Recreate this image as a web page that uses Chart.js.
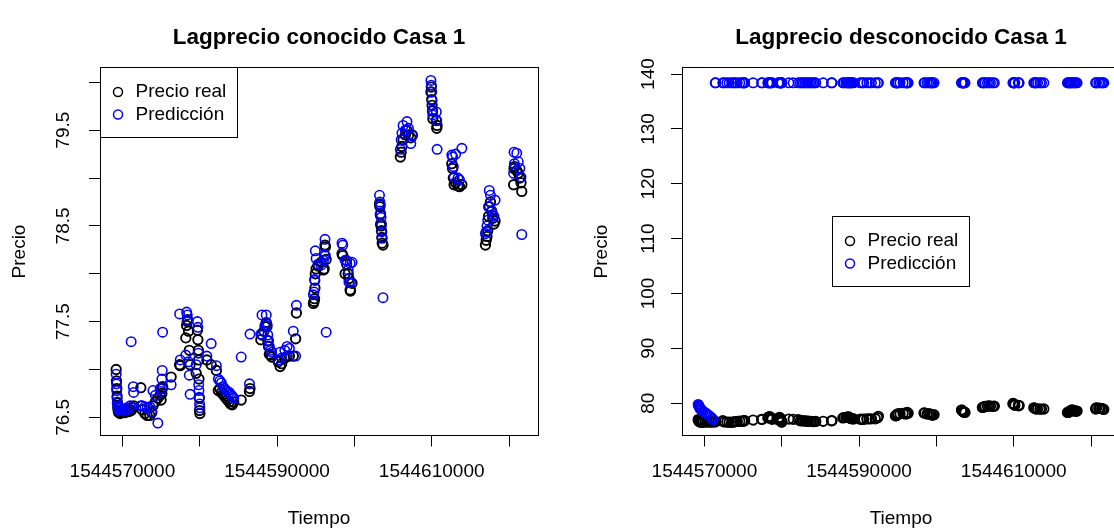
<!DOCTYPE html>
<html lang="es">
<head>
<meta charset="utf-8">
<title>Lagprecio Casa 1</title>
<script src="https://cdn.jsdelivr.net/npm/chart.js@4.4.1/dist/chart.umd.min.js"></script>
<style>
  html, body { margin: 0; padding: 0; background: #fff; overflow: hidden; }
  body { width: 1114px; height: 532px; position: relative; }
  .panel { position: absolute; top: 0; width: 582px; height: 532px; }
  #izq { left: 0; }
  #der { left: 582px; }
</style>
</head>
<body>
<div class="panel" id="izq"><canvas id="grafico-izq"></canvas></div>
<div class="panel" id="der"><canvas id="grafico-der"></canvas></div>
<script>
const FUENTE = '"Liberation Sans", Arial, Helvetica, sans-serif';

// Datos (tiempo unix, precio real y predicciones)
const tiempo = [
    1544569190, 1544569230, 1544569270, 1544569310, 1544569350, 1544569400, 1544569450, 1544569520, 1544569600, 1544569700,
    1544569850, 1544570100, 1544570350, 1544570600, 1544570850, 1544571000, 1544571130, 1544571400, 1544571450, 1544572380,
    1544572550, 1544572900, 1544573200, 1544573550, 1544573800, 1544573950, 1544574250, 1544574580, 1544574880, 1544575000,
    1544575100, 1544575150, 1544575200, 1544576300, 1544577400, 1544577470,
    1544578200, 1544578300, 1544578380, 1544578450, 1544578550, 1544578650, 1544578750, 1544579540, 1544579700, 1544579760,
    1544579820, 1544579860, 1544579900, 1544579940, 1544579980, 1544580020,
    1544580920, 1544581480, 1544582150, 1544582400, 1544582600, 1544582800, 1544583000, 1544583200, 1544583400, 1544583600,
    1544583800, 1544584000, 1544584200, 1544584400, 1544585360, 1544586430, 1544586500,
    1544587900, 1544588050, 1544588300, 1544588450, 1544588600, 1544588700, 1544588800, 1544588900, 1544589000, 1544589150,
    1544589300,
    1544590150, 1544590400, 1544590600, 1544591000, 1544591300, 1544591600, 1544592100, 1544592400, 1544592500,
    1544594700, 1544594780, 1544594850, 1544594900, 1544594950, 1544595050, 1544595300, 1544595700, 1544596000, 1544596100,
    1544596200, 1544596250, 1544596350,
    1544598400, 1544598500, 1544598800, 1544599000, 1544599200, 1544599300, 1544599450, 1544599500, 1544599700,
    1544603250, 1544603300, 1544603350, 1544603400, 1544603450, 1544603500, 1544603550, 1544603600, 1544603700,
    1544605950, 1544606050, 1544606150, 1544606300, 1544606600, 1544606800, 1544607000, 1544607300, 1544607500,
    1544609900, 1544609950, 1544610000, 1544610050, 1544610100, 1544610150, 1544610600, 1544610650, 1544610700,
    1544612600, 1544612700, 1544612800, 1544612900, 1544613100, 1544613400, 1544613600, 1544613900,
    1544616950, 1544617050, 1544617150, 1544617250, 1544617350, 1544617450, 1544617600, 1544617750, 1544617900, 1544618050,
    1544618200,
    1544620600, 1544620650, 1544620700, 1544621000, 1544621200, 1544621400, 1544621550, 1544621650
];

const precioReal = [
    77.00, 76.88, 76.80, 76.72, 76.65, 76.60, 76.57, 76.55, 76.56, 76.54,
    76.55, 76.56, 76.55, 76.57, 76.56, 76.58, 76.57, 76.60, 76.62, 76.81,
    76.58, 76.54, 76.52, 76.52, 76.55, 76.62, 76.66, 76.70, 76.73, 76.68,
    76.75, 76.80, 76.82, 76.92, 77.05, 77.04,
    77.33, 77.46, 77.50, 77.52, 77.40, 77.20, 77.05, 76.96, 77.41, 77.31,
    77.20, 77.10, 76.90, 76.70, 76.57, 76.54,
    77.10, 77.05, 76.99, 76.78, 76.80, 76.76, 76.74, 76.72, 76.70, 76.68,
    76.66, 76.64, 76.63, 76.66, 76.68, 76.77, 76.80,
    77.31, 77.36, 77.40, 77.45, 77.49, 77.45, 77.30, 77.24, 77.16, 77.15,
    77.13,
    77.08, 77.03, 77.06, 77.12, 77.14, 77.14, 77.14, 77.32, 77.59,
    77.69, 77.71, 77.74, 77.85, 78.00, 78.05, 78.08, 78.12, 78.04, 78.05,
    78.30, 78.28, 78.15,
    78.21, 78.19, 78.00, 78.10, 78.00, 77.95, 77.83, 77.82, 77.90,
    78.73, 78.70, 78.62, 78.52, 78.50, 78.45, 78.38, 78.32, 78.30,
    79.22, 79.27, 79.33, 79.40, 79.45, 79.50, 79.45, 79.42, 79.45,
    79.90, 79.95, 79.82, 79.76, 79.70, 79.62, 79.60, 79.52, 79.55,
    79.15, 79.10, 79.00, 78.93, 78.95, 78.92, 78.91, 78.93,
    78.30, 78.35, 78.39, 78.45, 78.60, 78.70, 78.75, 78.65, 78.58, 78.52,
    78.55,
    78.93, 79.10, 79.12, 79.08, 79.05, 79.00, 78.95, 78.86
];

// prediccion con el lag del precio conocido
const prediccionConocido = [
    76.95, 76.85, 76.78, 76.70, 76.66, 76.62, 76.60, 76.58, 76.57, 76.60,
    76.58, 76.58, 76.57, 76.60, 76.59, 76.62, 77.29, 76.82, 76.76, 76.62,
    76.62, 76.61, 76.60, 76.61, 76.56, 76.78, 76.73, 76.44, 76.80, 76.77,
    76.90, 76.99, 77.39, 76.84, 77.58, 77.10,
    77.15, 77.60, 77.57, 77.51, 77.08, 76.94, 76.74, 77.05, 77.50, 77.44,
    77.17, 76.84, 76.78, 76.71, 76.64, 76.60,
    77.14, 77.27, 77.04, 76.90, 76.88, 76.86, 76.82, 76.80, 76.78, 76.77,
    76.76, 76.74, 76.72, 76.70, 77.13, 76.85, 77.37,
    77.37, 77.57, 77.40, 77.46, 77.57, 77.47, 77.36, 77.30, 77.24, 77.20,
    77.18,
    77.10, 77.18, 77.12, 77.20, 77.24, 77.22, 77.40, 77.14, 77.67,
    77.78, 77.81, 77.94, 77.93, 78.24, 78.16, 78.10, 78.09, 78.14, 78.20,
    78.36, 78.19, 77.39,
    78.32, 78.30, 78.14, 78.14, 78.04, 77.91, 78.11, 77.91, 78.12,
    78.82, 78.75, 78.72, 78.63, 78.59, 78.52, 78.44, 78.37, 77.75,
    79.30, 79.40, 79.47, 79.55, 79.50, 79.59, 79.52, 79.36, 79.44,
    80.02, 79.97, 79.90, 79.81, 79.71, 79.66, 79.69, 79.60, 79.30,
    79.24, 79.22, 79.12, 79.01, 79.25, 79.00, 78.98, 79.31,
    78.42, 78.44, 78.50, 78.56, 78.70, 78.87, 78.82, 78.66, 78.62, 78.60,
    78.77,
    79.05, 79.27, 79.15, 79.26, 79.17, 79.10, 79.01, 78.41
];

// prediccion sin conocer el lag del precio
const prediccionDesconocido = [
    79.75, 79.62, 79.50, 79.40, 79.28, 79.15, 79.02, 78.90, 78.78, 78.65,
    78.50, 78.25, 78.00, 77.72, 77.45, 77.20, 77.00, 138.4, 138.4, 138.4,
    138.4, 138.4, 138.4, 138.4, 138.4, 138.4, 138.4, 138.4, 138.4, 138.4,
    138.4, 138.4, 138.4, 138.4, 138.4, 138.4,
    138.4, 138.4, 138.4, 138.4, 138.4, 138.4, 138.4, 138.4, 138.4, 138.4,
    138.4, 138.4, 138.4, 138.4, 138.4, 138.4,
    138.4, 138.4, 138.4, 138.4, 138.4, 138.4, 138.4, 138.4, 138.4, 138.4,
    138.4, 138.4, 138.4, 138.4, 138.4, 138.4, 138.4,
    138.4, 138.4, 138.4, 138.4, 138.4, 138.4, 138.4, 138.4, 138.4, 138.4,
    138.4,
    138.4, 138.4, 138.4, 138.4, 138.4, 138.4, 138.4, 138.4, 138.4,
    138.4, 138.4, 138.4, 138.4, 138.4, 138.4, 138.4, 138.4, 138.4, 138.4,
    138.4, 138.4, 138.4,
    138.4, 138.4, 138.4, 138.4, 138.4, 138.4, 138.4, 138.4, 138.4,
    138.4, 138.4, 138.4, 138.4, 138.4, 138.4, 138.4, 138.4, 138.4,
    138.4, 138.4, 138.4, 138.4, 138.4, 138.4, 138.4, 138.4, 138.4,
    138.4, 138.4, 138.4, 138.4, 138.4, 138.4, 138.4, 138.4, 138.4,
    138.4, 138.4, 138.4, 138.4, 138.4, 138.4, 138.4, 138.4,
    138.4, 138.4, 138.4, 138.4, 138.4, 138.4, 138.4, 138.4, 138.4, 138.4,
    138.4,
    138.4, 138.4, 138.4, 138.4, 138.4, 138.4, 138.4, 138.4
];

// Ejes
const ticksX = [1544570000, 1544580000, 1544590000, 1544600000, 1544610000, 1544620000];
const etiquetasX = ['1544570000', '', '1544590000', '', '1544610000', ''];

const ticksYIzq = [76.5, 77.0, 77.5, 78.0, 78.5, 79.0, 79.5, 80.0];
const etiquetasYIzq = ['76.5', '', '77.5', '', '78.5', '', '79.5', ''];

const ticksYDer = [80, 90, 100, 110, 120, 130, 140];
const etiquetasYDer = ['80', '90', '100', '110', '120', '130', '140'];

const X_MIN = 1544567100, X_MAX = 1544623750;

// caja, titulo y leyenda al estilo de R
const marcoYLeyenda = {
    id: 'marcoYLeyenda',
    afterDraw(chart, args, opts) {
        const ctx = chart.ctx;
        const a = chart.chartArea;
        ctx.save();
        ctx.strokeStyle = '#000';
        ctx.lineWidth = 1;
        const x0 = Math.floor(a.left) + 0.5, y0 = Math.floor(a.top) + 0.5;
        const x1 = Math.floor(a.right) + 0.5, y1 = Math.floor(a.bottom) + 0.5;
        ctx.strokeRect(x0, y0, x1 - x0, y1 - y0);

        ctx.fillStyle = '#000';
        ctx.font = 'bold 22.5px ' + FUENTE;
        ctx.textAlign = 'center';
        ctx.textBaseline = 'alphabetic';
        ctx.fillText(opts.titulo, (a.left + a.right) / 2, 44);

        // leyenda
        const w = 137, h = 70;
        let lx = a.left, ly = a.top;
        if (opts.leyenda === 'centro') {
            lx = (a.left + a.right) / 2 - w / 2;
            ly = (a.top + a.bottom) / 2 - h / 2;
        }
        lx = Math.floor(lx) + 0.5;
        ly = Math.floor(ly) + 0.5;
        ctx.fillStyle = '#fff';
        ctx.fillRect(lx, ly, w, h);
        ctx.strokeRect(lx, ly, w, h);
        ctx.font = '19px ' + FUENTE;
        ctx.textAlign = 'left';
        ctx.textBaseline = 'middle';
        chart.data.datasets.forEach(function (ds, i) {
            const y = ly + 24.5 + i * 22.5;
            ctx.beginPath();
            ctx.lineWidth = 1.5;
            ctx.strokeStyle = ds.borderColor;
            ctx.arc(lx + 17.5, y, 4.5, 0, Math.PI * 2);
            ctx.stroke();
            ctx.fillStyle = '#000';
            ctx.fillText(ds.label, lx + 35, y);
        });
        ctx.restore();
    }
};

function puntos(valores) {
    return tiempo.map((t, i) => ({ x: t, y: valores[i] }));
}

function crearGrafico(id, prediccion, yMin, yMax, ticksY, etiquetasY, paddingY, titulo, leyenda) {
    const ctx = document.getElementById(id);
    return new Chart(ctx, {
        type: 'scatter',
        data: {
            datasets: [{
                label: 'Precio real',
                data: puntos(precioReal),
                borderColor: '#000000',
                backgroundColor: 'rgba(0,0,0,0)',
                pointRadius: 4.7,
                pointBorderWidth: 1.9,
                order: 1
            }, {
                label: 'Predicción',
                data: puntos(prediccion),
                borderColor: '#0000ff',
                backgroundColor: 'rgba(0,0,0,0)',
                pointRadius: 4.7,
                pointBorderWidth: 1.6,
                order: 0
            }]
        },
        options: {
            responsive: true,
            maintainAspectRatio: false,
            animation: false,
            events: [],
            layout: { padding: { top: 67.5, right: 44, left: 0, bottom: 0 } },
            scales: {
                x: {
                    type: 'linear',
                    min: X_MIN,
                    max: X_MAX,
                    bounds: 'data',
                    afterBuildTicks: s => { s.ticks = ticksX.map(v => ({ value: v })); },
                    afterFit: s => { s.height = 96.5; },
                    grid: { drawOnChartArea: false, drawTicks: true, tickLength: 11, tickColor: '#000', tickWidth: 1 },
                    border: { display: false },
                    ticks: {
                        autoSkip: false, maxRotation: 0, minRotation: 0, padding: 14,
                        color: '#000', font: { family: FUENTE, size: 19 },
                        callback: (v, i) => etiquetasX[i]
                    },
                    title: {
                        display: true, text: 'Tiempo', color: '#000',
                        font: { family: FUENTE, size: 19 },
                        padding: { top: 0, bottom: 1.5 }
                    }
                },
                y: {
                    type: 'linear',
                    min: yMin,
                    max: yMax,
                    bounds: 'data',
                    afterBuildTicks: s => { s.ticks = ticksY.map(v => ({ value: v })); },
                    afterFit: s => { s.width = 100; },
                    grid: { drawOnChartArea: false, drawTicks: true, tickLength: 11, tickColor: '#000', tickWidth: 1 },
                    border: { display: false },
                    ticks: {
                        minRotation: 90, maxRotation: 90, crossAlign: 'center', padding: paddingY,
                        color: '#000', font: { family: FUENTE, size: 19 },
                        callback: (v, i) => etiquetasY[i]
                    },
                    title: {
                        display: true, text: 'Precio', color: '#000',
                        font: { family: FUENTE, size: 19 },
                        padding: { top: 8, bottom: 0 }
                    }
                }
            },
            plugins: {
                legend: { display: false },
                tooltip: { enabled: false },
                marcoYLeyenda: { titulo: titulo, leyenda: leyenda }
            }
        },
        plugins: [marcoYLeyenda]
    });
}

crearGrafico('grafico-izq', prediccionConocido, 76.31, 80.155, ticksYIzq, etiquetasYIzq, 7,
    'Lagprecio conocido Casa 1', 'arriba');
crearGrafico('grafico-der', prediccionDesconocido, 74.1, 141.2, ticksYDer, etiquetasYDer, 6,
    'Lagprecio desconocido Casa 1', 'centro');
</script>
</body>
</html>
